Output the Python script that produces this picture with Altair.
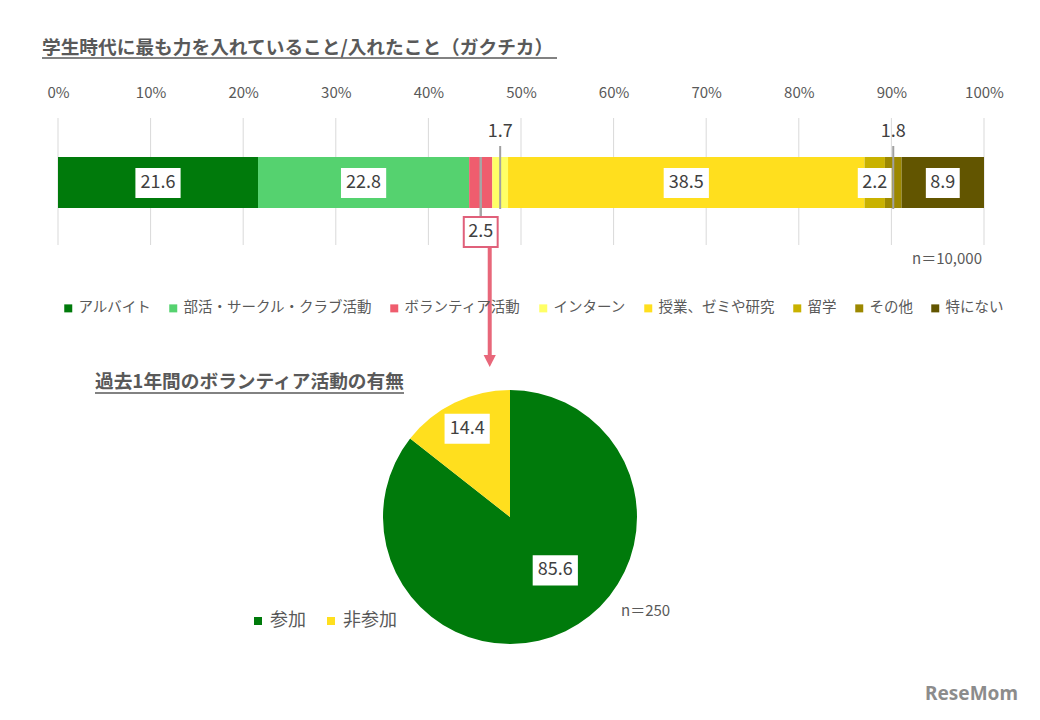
import altair as alt
import pandas as pd

FONT = "Noto Sans CJK JP"

# ---- data ----
categories = ["アルバイト", "部活・サークル・クラブ活動", "ボランティア活動", "インターン",
              "授業、ゼミや研究", "留学", "その他", "特にない"]
values = [21.6, 22.8, 2.5, 1.7, 38.5, 2.2, 1.8, 8.9]
colors = ["#007A0B", "#55D26F", "#EF5D6E", "#FFFF66", "#FFDF1E", "#C9B200", "#9C8800", "#625500"]
tick_values = [0, 10, 20, 30, 40, 50, 60, 70, 80, 90, 100]

pie_categories = ["参加", "非参加"]
pie_values = [85.6, 14.4]
pie_colors = ["#007A0B", "#FFDF1E"]

title_main = "学生時代に最も力を入れていること/入れたこと（ガクチカ）"
title_pie = "過去1年間のボランティア活動の有無"
n_bar = "n＝10,000"
n_pie = "n＝250"
logo = "ReseMom"
callout_above = ["インターン", "その他"]
callout_below = ["ボランティア活動"]


def box_path(label):
    w = 11.3 * len(label)
    k = 15.0 / (w / 2.0)
    return f"M-1,-{k:.3f}L1,-{k:.3f}L1,{k:.3f}L-1,{k:.3f}Z", w * w


rows = []
cum = 0.0
for i, (c, v) in enumerate(zip(categories, values)):
    lab = f"{v:.1f}"
    kind = "above" if c in callout_above else ("below" if c in callout_below else "in")
    p, s = box_path(lab)
    rows.append(dict(cat=c, value=v, idx=i, start=cum, end=cum + v, mid=cum + v / 2,
                     label=lab, kind=kind, box=p, boxsize=s))
    cum += v
bar_df = pd.DataFrame(rows)

prow = []
pcum = 0.0
ptotal = sum(pie_values)
for i, (c, v) in enumerate(zip(pie_categories, pie_values)):
    lab = f"{v:.1f}"
    p, s = box_path(lab)
    prow.append(dict(pcat=c, value=v, idx=i, midfrac=(pcum + v / 2) / ptotal,
                     label=lab, box=p, boxsize=s))
    pcum += v
pie_df = pd.DataFrame(prow)

tick_df = pd.DataFrame({"t": tick_values})

xs = alt.Scale(domain=[0, 100], range=[50, 976])
xaxis = alt.Axis(
    orient="top", values=tick_values, labelExpr="datum.value + '%'",
    domain=False, ticks=False, tickSize=0, grid=False, labelPadding=0,
    offset=-92, labelFont=FONT, labelFontSize=15, labelColor="#595959",
    labelFlush=False, labelOverlap=False, title=None)


def X(field):
    return alt.X(field, scale=xs, axis=xaxis)


# ---- bar part ----
grid = alt.Chart(tick_df).mark_rule(color="#D9D9D9", strokeWidth=1).encode(
    x=X("t:Q"), y=alt.value(110), y2=alt.value(237),
)

bars = alt.Chart(bar_df).mark_bar(strokeWidth=0).encode(
    x=X("start:Q"),
    x2="end:Q",
    y=alt.value(149), y2=alt.value(200),
    color=alt.Color("cat:N", scale=alt.Scale(domain=categories, range=colors),
                    legend=alt.Legend(title=None, orient="none", legendX=53, legendY=293,
                                      direction="horizontal", columns=8, symbolType="square",
                                      symbolSize=64, symbolStrokeWidth=0, labelFont=FONT,
                                      labelFontSize=14.5, labelColor="#595959", labelOffset=3,
                                      columnPadding=15, padding=0, labelLimit=400)),
)

in_boxes = alt.Chart(bar_df).transform_filter("datum.kind == 'in'").mark_point(
    filled=True, fill="white", opacity=1, strokeWidth=0).encode(
    x=X("mid:Q"),
    y=alt.value(175),
    shape=alt.Shape("box:N", scale=None),
    size=alt.Size("boxsize:Q", scale=None),
)
in_text = alt.Chart(bar_df).transform_filter("datum.kind == 'in'").mark_text(
    font=FONT, fontSize=18, color="#404040", align="center", baseline="middle").encode(
    x=X("mid:Q"), y=alt.value(175), text="label:N")

leader_below = alt.Chart(bar_df).transform_filter("datum.kind == 'below'").mark_rule(
    color="#A6A6A6", strokeWidth=2.5).encode(
    x=X("mid:Q"), y=alt.value(149), y2=alt.value(209))
leader_above = alt.Chart(bar_df).transform_filter("datum.kind == 'above'").mark_rule(
    color="#A0A0A0", strokeWidth=2).encode(
    x=X("mid:Q"), y=alt.value(138), y2=alt.value(201))

above_text = alt.Chart(bar_df).transform_filter("datum.kind == 'above'").mark_text(
    font=FONT, fontSize=18, color="#404040", align="center", baseline="middle").encode(
    x=X("mid:Q"), y=alt.value(124), text="label:N")

below_box = alt.Chart(bar_df).transform_filter("datum.kind == 'below'").mark_point(
    filled=True, fill="white", opacity=1, stroke="#E0607A", strokeWidth=2).encode(
    x=X("mid:Q"), y=alt.value(224),
    shape=alt.Shape("box:N", scale=None), size=alt.Size("boxsize:Q", scale=None))
below_text = alt.Chart(bar_df).transform_filter("datum.kind == 'below'").mark_text(
    font=FONT, fontSize=18, color="#404040", align="center", baseline="middle").encode(
    x=X("mid:Q"), y=alt.value(224), text="label:N")

arrow = alt.Chart(bar_df).transform_filter("datum.kind == 'below'").mark_rule(
    color="#E8677A", strokeWidth=4, xOffset=9).encode(
    x=X("mid:Q"), y=alt.value(240), y2=alt.value(348))
arrow_head = alt.Chart(bar_df).transform_filter("datum.kind == 'below'").mark_point(
    shape="M-1,-1L1,-1L0,1Z", filled=True, fill="#E8677A", opacity=1, strokeWidth=0,
    size=150, xOffset=9).encode(
    x=X("mid:Q"), y=alt.value(353))

# ---- pie part ----
pie = alt.Chart(pie_df).mark_arc(outerRadius=127, strokeWidth=0).encode(
    theta=alt.Theta("value:Q", stack=True),
    order=alt.Order("idx:Q"),
    color=alt.Color("pcat:N", scale=alt.Scale(domain=pie_categories, range=pie_colors),
                    legend=alt.Legend(title=None, orient="none", legendX=241, legendY=604,
                                      direction="horizontal", columns=2, symbolType="square",
                                      symbolSize=64, symbolStrokeWidth=0, labelFont=FONT,
                                      labelFontSize=18, labelColor="#595959", labelOffset=3,
                                      columnPadding=16, padding=0)),
    x=alt.value(502), y=alt.value(509),
)

pie_pos = dict(
    px="502 + (datum.value > 50 ? 70 : 98) * sin(2 * PI * (datum.midfrac - (datum.value > 50 ? 0.04 : 0)))",
    py="509 - (datum.value > 50 ? 70 : 98) * cos(2 * PI * (datum.midfrac - (datum.value > 50 ? 0.04 : 0)))",
)
pie_boxes = alt.Chart(pie_df).transform_calculate(**pie_pos).mark_point(
    filled=True, fill="white", opacity=1, strokeWidth=0).encode(
    x=alt.X("px:Q", scale=None), y=alt.Y("py:Q", scale=None),
    shape=alt.Shape("box:N", scale=None), size=alt.Size("boxsize:Q", scale=None))
pie_text = alt.Chart(pie_df).transform_calculate(**pie_pos).mark_text(
    font=FONT, fontSize=18, color="#404040", align="center", baseline="middle").encode(
    x=alt.X("px:Q", scale=None), y=alt.Y("py:Q", scale=None), text="label:N")


# ---- titles & notes ----
def one(text):
    return pd.DataFrame({"t": [text]})


t1 = alt.Chart(one(title_main)).mark_text(
    font=FONT, fontSize=18.7, fontWeight="bold", color="#595959", align="left",
    baseline="middle").encode(text="t:N", x=alt.value(34), y=alt.value(40))
u1 = alt.Chart(one("u")).mark_rule(color="#595959", strokeWidth=1.3).encode(
    x=alt.value(34), x2=alt.value(549), y=alt.value(50))
t2 = alt.Chart(one(title_pie)).mark_text(
    font=FONT, fontSize=18.7, fontWeight="bold", color="#595959", align="left",
    baseline="middle").encode(text="t:N", x=alt.value(87), y=alt.value(374))
u2 = alt.Chart(one("u")).mark_rule(color="#595959", strokeWidth=1.3).encode(
    x=alt.value(87), x2=alt.value(396), y=alt.value(385))
nb = alt.Chart(one(n_bar)).mark_text(
    font=FONT, fontSize=15, color="#595959", align="right", baseline="middle").encode(
    text="t:N", x=alt.value(974), y=alt.value(251))
npie = alt.Chart(one(n_pie)).mark_text(
    font=FONT, fontSize=15, color="#595959", align="left", baseline="middle").encode(
    text="t:N", x=alt.value(613), y=alt.value(603))
lg = alt.Chart(one(logo)).mark_text(
    font="Noto Sans", fontSize=19, fontWeight="bold", color="#8C8C8C", align="right",
    baseline="middle").encode(text="t:N", x=alt.value(1010), y=alt.value(686))

chart = alt.layer(
    grid, bars, in_boxes, in_text, leader_below, leader_above, above_text,
    arrow, arrow_head, below_box, below_text,
    pie, pie_boxes, pie_text, t1, u1, t2, u2, nb, npie, lg,
).resolve_scale(color="independent").properties(
    width=1024, height=704, autosize=alt.AutoSizeParams(type="none"), padding=0,
    background="white",
).configure_view(stroke=None)

chart.save("out.html", embed_options={"renderer": "svg", "actions": False})
